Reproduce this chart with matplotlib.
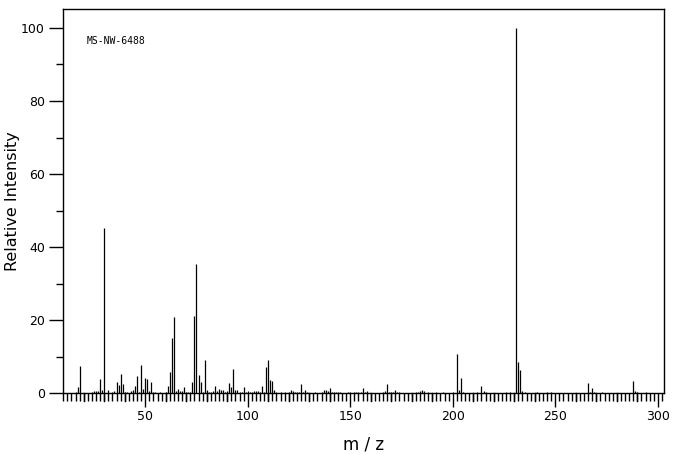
import numpy as np
import matplotlib
matplotlib.use("Agg")
import matplotlib.pyplot as plt
from matplotlib.ticker import MultipleLocator

# peak list
mz = [16, 17, 18, 24, 25, 26, 27, 28, 29, 30, 32, 34, 35, 36, 37, 38, 39, 40, 41, 43,
      44, 45, 46, 47, 48, 49, 50, 51, 52, 53, 54, 55, 57, 60, 61, 62, 63, 64, 65, 66,
      67, 68, 69, 70, 71, 72, 73, 74, 75, 76, 77, 78, 79, 80, 81, 82, 83, 84, 85, 86,
      87, 88, 89, 90, 91, 92, 93, 94, 95, 96, 97, 98, 99, 100, 101, 102, 103, 104, 105, 106,
      107, 108, 109, 110, 111, 112, 113, 114, 116, 118, 120, 121, 122, 123, 124, 125, 126, 127, 128, 129,
      133, 136, 137, 138, 139, 140, 141, 142, 143, 144, 145, 149, 150, 152, 153, 154, 155, 156, 157, 158,
      166, 167, 168, 169, 170, 171, 172, 173, 174, 182, 183, 184, 185, 186, 188, 192, 195, 200, 202, 203,
      204, 205, 212, 214, 215, 216, 226, 228, 231, 232, 233, 234, 235, 241, 246, 248, 266, 267, 268, 269,
      273, 288, 289, 290, 294]
intensity = [0.4, 1.7, 7.5, 0.3, 0.5, 0.5, 0.6, 3.9, 0.9, 45.2, 0.9, 0.4, 0.5, 3.1, 2.3, 5.3, 2.6, 0.4, 0.4, 0.5,
             0.9, 2.0, 4.7, 0.4, 7.8, 1.2, 4.2, 4.0, 0.7, 3.1, 0.4, 0.4, 0.4, 0.4, 2.0, 5.8, 15.2, 21.0, 0.6, 1.2,
             0.7, 0.5, 1.7, 0.4, 0.4, 0.4, 3.1, 21.2, 35.4, 5.0, 3.1, 0.3, 9.1, 0.9, 0.4, 0.4, 0.7, 2.0, 0.5, 1.2,
             0.9, 0.9, 0.4, 0.7, 2.8, 1.6, 6.7, 0.9, 0.9, 0.4, 0.4, 1.7, 0.4, 0.6, 0.4, 0.4, 0.5, 0.6, 0.6, 0.4,
             2.0, 0.4, 7.3, 9.1, 3.6, 3.4, 0.9, 0.4, 0.4, 0.4, 0.4, 0.9, 0.6, 0.4, 0.4, 0.4, 2.6, 0.4, 0.9, 0.4,
             0.4, 0.4, 0.9, 0.9, 0.6, 1.5, 0.4, 0.4, 0.4, 0.4, 0.4, 0.4, 0.4, 0.4, 0.4, 0.4, 0.4, 1.5, 0.4, 0.6,
             0.4, 0.6, 2.6, 0.4, 0.4, 0.4, 0.9, 0.4, 0.4, 0.4, 0.4, 0.6, 0.9, 0.6, 0.4, 0.4, 0.4, 0.4, 10.8, 0.9,
             4.2, 0.4, 0.4, 2.0, 0.6, 0.4, 0.4, 0.4, 100.0, 8.6, 6.4, 0.6, 0.4, 0.4, 0.4, 0.4, 2.8, 0.4, 1.5, 0.4,
             0.4, 3.4, 0.6, 0.4, 0.4]
label = "MS-NW-6488"

fig = plt.figure(figsize=(6.76, 4.55), dpi=100)
ax = fig.add_axes([0.0932, 0.1356, 0.8890, 0.8440])

ax.vlines(mz, 0, intensity, colors="black", linewidth=0.9)

ax.set_xlim(9.9, 303)
ax.set_ylim(0, 105.1)

ax.xaxis.set_major_locator(MultipleLocator(50))
ax.xaxis.set_minor_locator(MultipleLocator(2))
ax.yaxis.set_major_locator(MultipleLocator(20))
ax.yaxis.set_minor_locator(MultipleLocator(10))
ax.tick_params(axis="x", which="major", length=10, width=1, direction="out", labelsize=9, pad=2)
ax.tick_params(axis="x", which="minor", length=5.5, width=1, direction="out")
ax.tick_params(axis="y", which="major", length=10, width=1, direction="out", labelsize=9, pad=3)
ax.tick_params(axis="y", which="minor", length=5, width=1, direction="out")

# slightly longer ticks every 10 units
for x in range(20, 301, 10):
    if x % 50:
        ax.plot([x, x], [0, -7.2 / 3.653], color="black", lw=1, clip_on=False)

for s in ax.spines.values():
    s.set_linewidth(1)

ax.set_xlabel("m / z", fontsize=12, labelpad=9)
ax.set_ylabel("Relative Intensity", fontsize=11.5)
ax.yaxis.set_label_coords(-0.071, 0.5)
ax.text(0.040, 0.917, label, transform=ax.transAxes, fontsize=7,
        family="DejaVu Sans Mono", va="center", ha="left")

fig.savefig("out.png", dpi=100)
